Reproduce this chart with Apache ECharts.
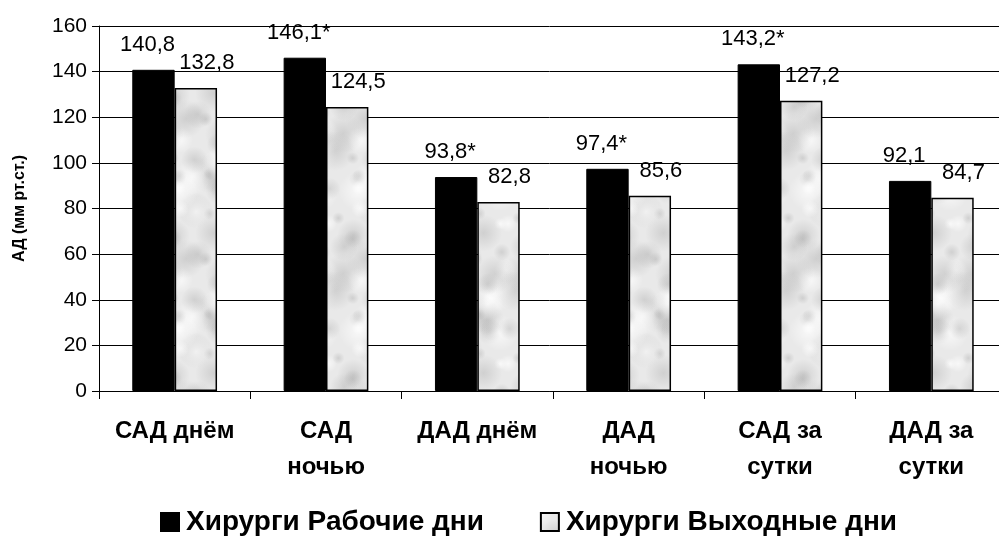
<!DOCTYPE html>
<html>
<head>
<meta charset="utf-8">
<script src="https://cdn.jsdelivr.net/npm/echarts@6/dist/echarts.min.js"></script>
<style>
  html, body { margin: 0; padding: 0; background: #fff; }
  #chart { width: 999px; height: 550px; }
</style>
</head>
<body>
<div id="chart"></div>
<script>
// Categories (blood pressure measures)
const categories = ['САД днём', 'САД\nночью', 'ДАД днём', 'ДАД\nночью', 'САД за\nсутки', 'ДАД за\nсутки'];
// Series names
const seriesNames = ['Хирурги Рабочие дни', 'Хирурги Выходные дни'];
// Surgeons, working days
const workdays = [140.8, 146.1, 93.8, 97.4, 143.2, 92.1];
// Surgeons, days off
const daysOff = [132.8, 124.5, 82.8, 85.6, 127.2, 84.7];
// Significant difference marks (asterisk) for working days
const workdaysSignificant = [false, true, true, true, true, false];
// Value axis ticks
const yMin = 0, yMax = 160, yStep = 20;

const FONT = '"Liberation Sans", Arial, sans-serif';

// Light grey marble-like texture for the days-off bars
function makeTexture() {
  const c = document.createElement('canvas');
  c.width = 90; c.height = 140;
  const g = c.getContext('2d');
  g.fillStyle = '#e9e9e9';
  g.fillRect(0, 0, c.width, c.height);
  for (let i = 0; i < 38; i++) {
    const x = (Math.sin(i * 12.9898) * 43758.5453 % 1 + 1) % 1 * c.width;
    const y = (Math.sin(i * 78.233) * 12345.678 % 1 + 1) % 1 * c.height;
    const r = 6 + ((Math.sin(i * 3.7) + 1) * 7);
    const dark = i % 3 !== 0;
    const grad = g.createRadialGradient(x, y, 0, x, y, r);
    grad.addColorStop(0, dark ? 'rgba(150,150,150,0.3)' : 'rgba(255,255,255,0.7)');
    grad.addColorStop(1, dark ? 'rgba(150,150,150,0)' : 'rgba(255,255,255,0)');
    g.fillStyle = grad;
    for (const dx of [-c.width, 0, c.width]) {
      for (const dy of [-c.height, 0, c.height]) {
        g.save();
        g.translate(dx, dy);
        g.beginPath();
        g.arc(x, y, r, 0, Math.PI * 2);
        g.fill();
        g.restore();
      }
    }
  }
  return c;
}
const texture = makeTexture();

const fmt = v => v.toFixed(1).replace('.', ',');

const chart = echarts.init(document.getElementById('chart'), null, { renderer: 'canvas' });
chart.setOption({
  animation: false,
  backgroundColor: '#fff',
  textStyle: { fontFamily: FONT },
  // plot area runs slightly past the right edge of the canvas
  grid: { left: 99, width: 908, top: 26, height: 365, outerBoundsMode: 'none', containLabel: false },
  legend: {
    top: 508,
    left: 160,
    padding: 0,
    itemWidth: 18,
    itemHeight: 18,
    itemGap: 56,
    icon: 'rect',
    textStyle: { fontFamily: FONT, fontSize: 28, lineHeight: 28, fontWeight: 'bold', color: '#000', padding: [0, 0, 0, 2] },
    data: seriesNames
  },
  xAxis: {
    type: 'category',
    data: categories,
    axisLine: { lineStyle: { color: '#000', width: 1 } },
    axisTick: { show: true, length: 8, lineStyle: { color: '#000' } },
    axisLabel: {
      interval: 0,
      margin: 22,
      fontFamily: FONT,
      fontSize: 24,
      fontWeight: 'bold',
      color: '#000',
      lineHeight: 36,
      verticalAlign: 'top'
    },
    splitLine: { show: false }
  },
  yAxis: {
    type: 'value',
    min: yMin,
    max: yMax,
    interval: yStep,
    name: 'АД (мм рт.ст.)',
    nameLocation: 'middle',
    nameRotate: 90,
    nameGap: 71,
    nameTextStyle: { fontFamily: FONT, fontSize: 16, fontWeight: 'bold', color: '#000' },
    axisLine: { show: true, lineStyle: { color: '#000', width: 1 } },
    axisTick: { show: true, length: 7, lineStyle: { color: '#000' } },
    axisLabel: { margin: 12, fontFamily: FONT, fontSize: 21, color: '#000' },
    splitLine: { show: true, lineStyle: { color: '#000', width: 1 } }
  },
  series: [
    {
      name: seriesNames[0],
      type: 'bar',
      data: workdays,
      barGap: '0%',
      barCategoryGap: '44%',
      itemStyle: { color: '#000', borderColor: '#000', borderWidth: 1 },
      label: {
        show: true,
        position: 'top',
        distance: 14,
        offset: [-6, 0],
        fontFamily: FONT,
        fontSize: 22,
        lineHeight: 22,
        color: '#000',
        formatter: p => fmt(p.value) + (workdaysSignificant[p.dataIndex] ? '*' : '')
      }
    },
    {
      name: seriesNames[1],
      type: 'bar',
      data: daysOff,
      itemStyle: { color: { image: texture, repeat: 'repeat' }, borderColor: '#000', borderWidth: 1.5 },
      label: {
        show: true,
        position: 'top',
        distance: 14,
        offset: [11, 0],
        fontFamily: FONT,
        fontSize: 22,
        lineHeight: 22,
        color: '#000',
        formatter: p => fmt(p.value)
      }
    }
  ]
});
</script>
</body>
</html>
